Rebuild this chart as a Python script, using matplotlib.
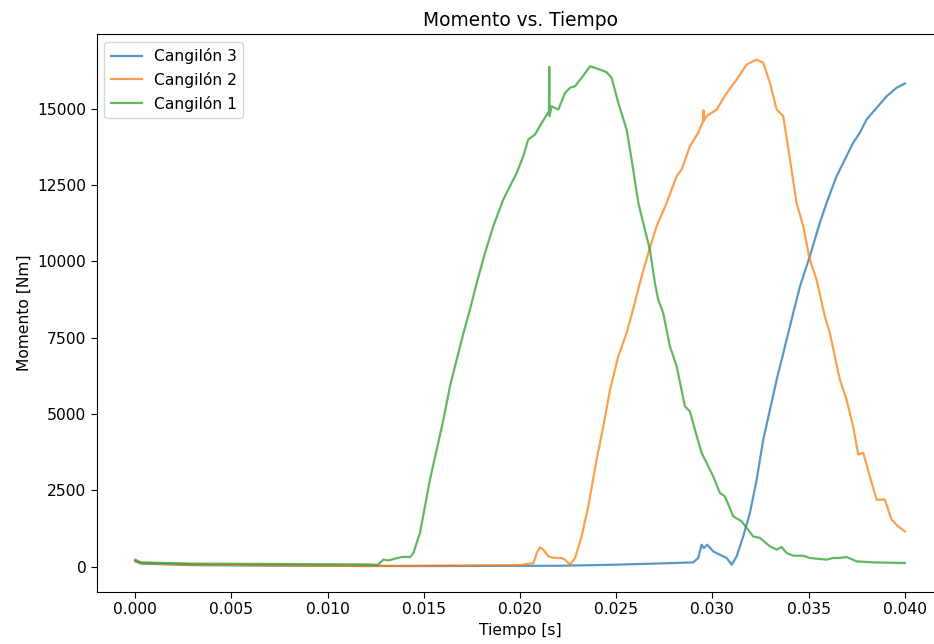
import numpy as np
from matplotlib import pyplot as plt

# Cangilon 3 (blue)
t3 = [0.0, 0.0003, 0.003, 0.008, 0.015, 0.022, 0.025, 0.028, 0.029, 0.02926, 0.02944, 0.02955,
      0.02973, 0.03004, 0.03039, 0.03074, 0.031, 0.03126, 0.0316, 0.03195, 0.0323, 0.03264,
      0.03299, 0.03334, 0.03377, 0.0342, 0.03455, 0.03506, 0.03558, 0.03593, 0.03645, 0.03697,
      0.03731, 0.03766, 0.03801, 0.03853, 0.03905, 0.03957, 0.04]
m3 = [180, 100, 50, 30, 20, 30, 65, 120, 140, 285, 720, 610,
      720, 500, 390, 285, 65, 340, 990, 1760, 2850, 4160,
      5140, 6125, 7215, 8310, 9180, 10160, 11255, 11910, 12780, 13440,
      13875, 14205, 14640, 15020, 15400, 15680, 15820]

# Cangilon 2 (orange)
t2 = [0.0, 0.0003, 0.003, 0.012, 0.02, 0.0207, 0.02087, 0.02104, 0.02121, 0.02147, 0.02173,
      0.02216, 0.02234, 0.0226, 0.02286, 0.0232, 0.02355, 0.02398, 0.02433, 0.02468, 0.02511,
      0.02554, 0.0258, 0.02623, 0.02667, 0.0271, 0.02762, 0.02814, 0.0284, 0.02883, 0.02926,
      0.02952, 0.02954, 0.02956, 0.0297, 0.03022, 0.03074, 0.03126, 0.03178, 0.03229, 0.03264,
      0.03299, 0.03334, 0.03368, 0.03403, 0.03437, 0.03472, 0.03506, 0.03541, 0.03584, 0.0361,
      0.03662, 0.03697, 0.03731, 0.03758, 0.03784, 0.03818, 0.03853, 0.03896, 0.03931, 0.03965,
      0.04]
m2 = [200, 120, 70, 20, 50, 120, 450, 630, 555, 340, 285,
      285, 230, 65, 285, 990, 1975, 3505, 4595, 5800, 6890,
      7650, 8250, 9290, 10275, 11145, 11910, 12785, 13000, 13765, 14205,
      14585, 14945, 14600, 14750, 14965, 15510, 15950, 16440, 16605, 16495,
      15840, 14965, 14750, 13330, 11910, 11145, 10055, 9400, 8200, 7650,
      6125, 5470, 4595, 3670, 3725, 2955, 2195, 2195, 1540, 1320,
      1155]

# Cangilon 1 (green)
t1 = [0.0, 0.0003, 0.003, 0.012, 0.0126, 0.0129, 0.01316, 0.01385, 0.01429, 0.01446, 0.0148,
      0.01506, 0.01532, 0.01567, 0.01602, 0.01636, 0.01671, 0.01706, 0.0174, 0.01775, 0.01818,
      0.01861, 0.01913, 0.01983, 0.02017, 0.02043, 0.02078, 0.02113, 0.0215, 0.02152, 0.02154,
      0.02164, 0.02199, 0.02234, 0.0226, 0.02286, 0.0232, 0.02364, 0.02416, 0.0245, 0.02476,
      0.02511, 0.02554, 0.0258, 0.02615, 0.02649, 0.02675, 0.02701, 0.02718, 0.02744, 0.02779,
      0.02814, 0.02857, 0.02883, 0.02909, 0.02944, 0.0297, 0.03004, 0.03039, 0.03065, 0.03108,
      0.03152, 0.03212, 0.03247, 0.03299, 0.03334, 0.03359, 0.03385, 0.0342, 0.03472, 0.03506,
      0.03593, 0.03627, 0.03662, 0.03697, 0.03749, 0.03835, 0.04]
m1 = [230, 140, 100, 75, 60, 230, 205, 317, 317, 450, 1100,
      1975, 2850, 3830, 4815, 5905, 6780, 7650, 8420, 9290, 10270,
      11145, 12020, 12895, 13440, 13985, 14150, 14530, 14910, 16365, 14750,
      15075, 14965, 15510, 15680, 15730, 16005, 16385, 16275, 16190, 16005,
      15185, 14310, 13330, 11910, 11035, 10380, 9290, 8745, 8310, 7215,
      6560, 5250, 5085, 4485, 3725, 3395, 2955, 2415, 2300, 1650,
      1485, 990, 940, 665, 555, 645, 450, 360, 360, 285,
      230, 285, 285, 317, 175, 140, 120]

plt.rcParams['font.size'] = 11.2

fig = plt.figure(figsize=(9.34, 6.44), dpi=100)
ax = fig.add_axes([0.1035, 0.0807, 0.9065, 0.8665])

ax.plot(t3, m3, color='tab:blue', alpha=0.75, lw=1.6, label='Cangilón 3')
ax.plot(t2, m2, color='tab:orange', alpha=0.75, lw=1.6, label='Cangilón 2')
ax.plot(t1, m1, color='tab:green', alpha=0.75, lw=1.6, label='Cangilón 1')

ax.set_xlim(-0.002, 0.042)
ax.set_ylim(-830, 17440)
ax.set_xticks(np.arange(0, 0.0401, 0.005))
ax.set_yticks(np.arange(0, 15001, 2500))
ax.xaxis.set_major_formatter(plt.FormatStrFormatter('%.3f'))
ax.tick_params(length=4)

ax.set_title('Momento vs. Tiempo')
ax.set_xlabel('Tiempo [s]')
ax.set_ylabel('Momento [Nm]')
ax.legend(loc='upper left')

fig.savefig('out.png', dpi=100)
